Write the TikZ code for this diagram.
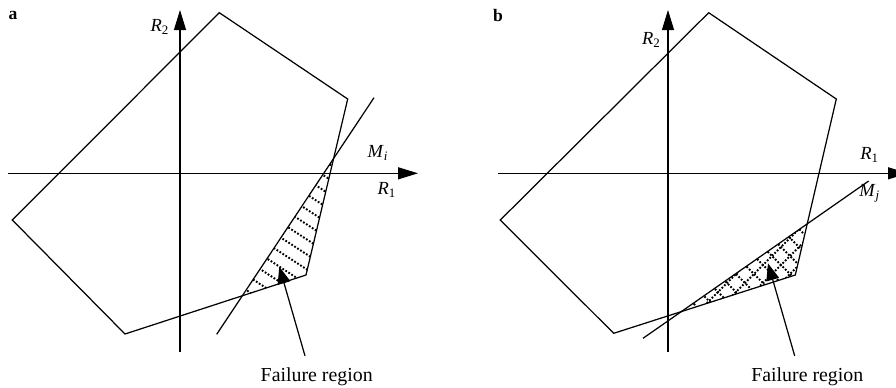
\documentclass[tikz,border=0pt]{standalone}
\usepackage{fontspec}
\setmainfont{Liberation Serif}
\usetikzlibrary{arrows.meta, positioning, calc}
\tikzset{
  every picture/.style={line width=0.7pt},
  axis/.style={-{Triangle[length=4mm, width=2.4mm]}},
  pointer/.style={-{Triangle[length=3.4mm, width=2.6mm]}},
  hatch/.style={line width=1.1pt, dash pattern=on 1pt off 1pt},
  panel/.style={font=\bfseries\fontsize{10}{12}\selectfont},
  lab/.style={font=\fontsize{10.5}{12}\selectfont, inner sep=1pt},
  caption/.style={font=\fontsize{11.3}{13}\selectfont, inner sep=1pt, anchor=base},
}

\begin{document}
\begin{tikzpicture}[x=0.02cm, y=-0.02cm]
  \useasboundingbox (0,0) rectangle (896,387);
  \clip (0,0) rectangle (896,387);
  % panel a
  \node[panel] (pa) at (13,15) {a};
  \coordinate (a1) at (219.3,12.7);
  \coordinate (a2) at (347.7,99);
  \coordinate (a3) at (306,275);
  \coordinate (a4) at (125,334);
  \coordinate (a5) at (12.3,220);
  \coordinate (mi1) at (216.7,334.3);
  \coordinate (mi2) at (374,97.7);
  \begin{scope}
    \clip (intersection of mi1--mi2 and a2--a3) -- (a3) -- (intersection of mi1--mi2 and a3--a4) -- cycle;
    \foreach \k in {0,...,20} \draw[hatch] (200,20+15*\k) -- ++(200,130);
  \end{scope}
  \draw[axis] (8,173.3) -- (418,173.3);
  \draw[axis] (180,352) -- (180,10);
  \draw (a1) -- (a2) -- (a3) -- (a4) -- (a5) -- cycle;
  \draw (mi1) -- (mi2);
  \node[lab] (r2a) at (160,27) {\textit{R}\textsubscript{2}};
  \node[lab] (r1a) at (387,190) {\textit{R}\textsubscript{1}};
  \node[lab] (mia) at (378,153) {\textit{M}\textsubscript{\textit{i}}};
  \node[caption] (fa) at (316.7,381.7) {Failure region};
  \coordinate (ta) at (279.3,266.7);
  \draw[pointer] (fa.north) ++(-11.7,-9.7) -- (ta);
  % panel b
  \node[panel] (pb) at (498,15) {b};
  \coordinate (b1) at (708.7,12.7);
  \coordinate (b2) at (836.3,99);
  \coordinate (b3) at (795.3,275);
  \coordinate (b4) at (613.7,333.3);
  \coordinate (b5) at (500.3,220);
  \coordinate (mj1) at (643,338.3);
  \coordinate (mj2) at (868.7,181);
  \begin{scope}
    \clip (intersection of mj1--mj2 and b2--b3) -- (b3) -- (intersection of mj1--mj2 and b3--b4) -- cycle;
    \foreach \k in {-18,...,18} {
      \draw[hatch] (745+18*\k,265) ++(-150,-150) -- ++(300,300);
      \draw[hatch] (745+18*\k,265) ++(-150,150) -- ++(300,-300);
    }
  \end{scope}
  \draw[axis] (498,173.3) -- (908,173.3);
  \draw[axis] (668,352) -- (668,10);
  \draw (b1) -- (b2) -- (b3) -- (b4) -- (b5) -- cycle;
  \draw (mj1) -- (mj2);
  \node[lab] (r2b) at (651.3,40) {\textit{R}\textsubscript{2}};
  \node[lab] (r1b) at (869.7,155) {\textit{R}\textsubscript{1}};
  \node[lab] (mjb) at (869.7,193.3) {\textit{M}\textsubscript{\textit{j}}};
  \node[caption] (fb) at (807.3,381.7) {Failure region};
  \coordinate (tb) at (768,263.3);
  \draw[pointer] (fb.north) ++(-12.6,-9.7) -- (tb);
\end{tikzpicture}
\end{document}
